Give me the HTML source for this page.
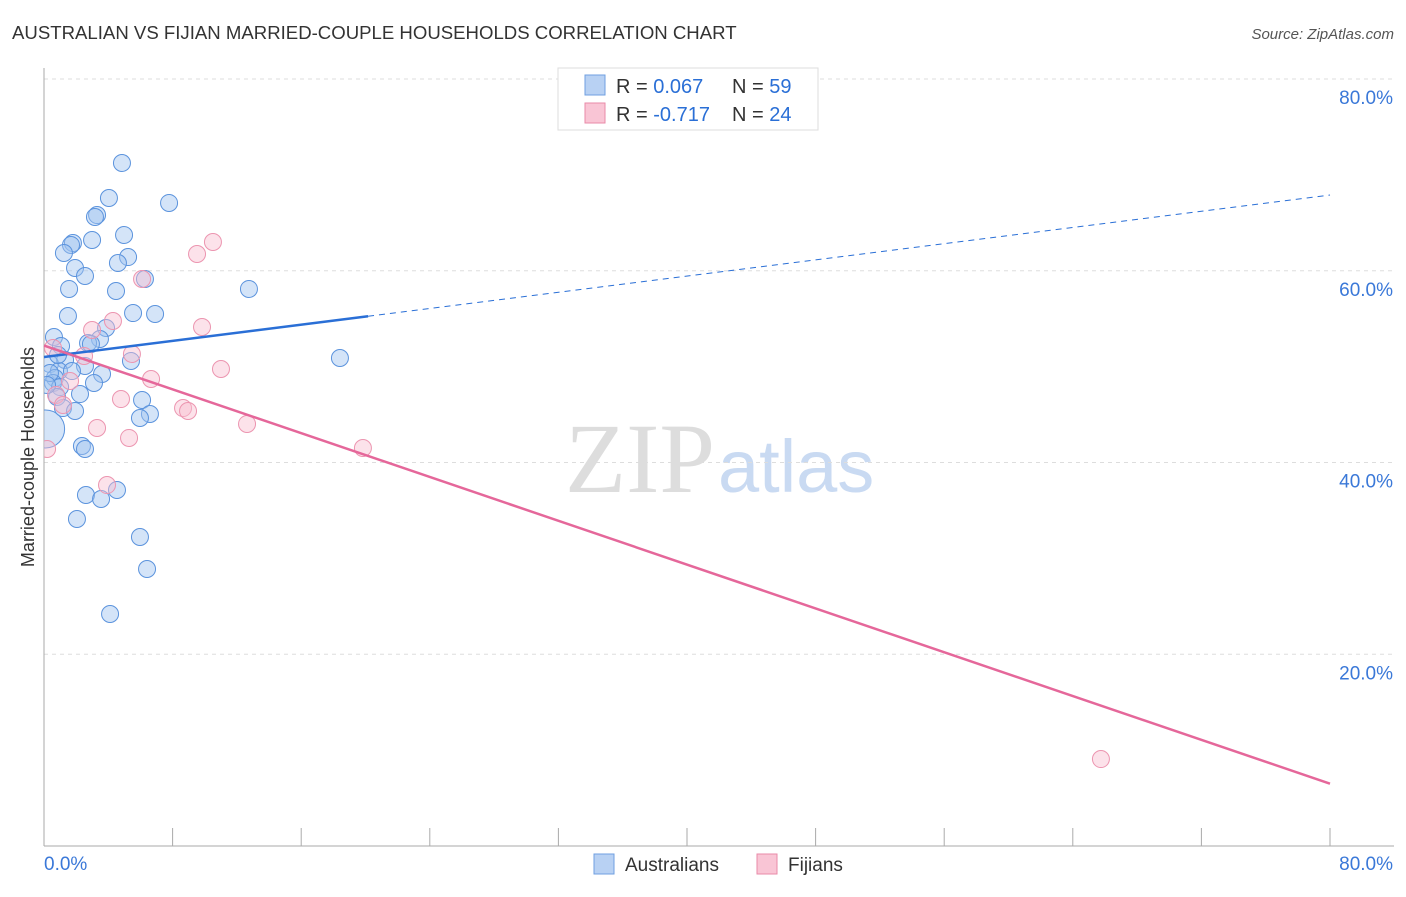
<!DOCTYPE html>
<html><head><meta charset="utf-8"><style>
body{margin:0;background:#fff;font-family:"Liberation Sans",sans-serif;}
</style></head><body>
<svg id="c" width="1406" height="892" xmlns="http://www.w3.org/2000/svg">
<defs><clipPath id="plotclip"><rect x="44" y="60" width="1360" height="786"/></clipPath></defs>
<text x="12" y="39" font-size="18.6" fill="#333">AUSTRALIAN VS FIJIAN MARRIED-COUPLE HOUSEHOLDS CORRELATION CHART</text>
<text x="1394" y="39" font-size="15" fill="#555" font-style="italic" text-anchor="end">Source: ZipAtlas.com</text>
<text x="715" y="492" font-size="100" fill="#ddd" text-anchor="end" font-family="Liberation Serif,serif">ZIP</text>
<text x="718" y="492" font-size="74" fill="#c9daf2">atlas</text>
<text transform="translate(34,457) rotate(-90)" font-size="18" fill="#333" text-anchor="middle">Married-couple Households</text>
<g id="grid"></g><g id="pts" clip-path="url(#plotclip)"></g><g id="lines"></g>
<g>
<rect x="558" y="68" width="260" height="62" fill="#fff" stroke="#ddd"/>
<rect x="585" y="75" width="20" height="20" fill="#b8d1f3" stroke="#6f9fe0"/>
<rect x="585" y="103" width="20" height="20" fill="#f9c5d5" stroke="#e98aa8"/>
<text x="616" y="93" font-size="20" fill="#333">R = <tspan fill="#2a6fd6">0.067</tspan></text>
<text x="732" y="93" font-size="20" fill="#333">N = <tspan fill="#2a6fd6">59</tspan></text>
<text x="616" y="121" font-size="20" fill="#333">R = <tspan fill="#2a6fd6">-0.717</tspan></text>
<text x="732" y="121" font-size="20" fill="#333">N = <tspan fill="#2a6fd6">24</tspan></text>
</g>
<g>
<rect x="594" y="854" width="20" height="20" fill="#b8d1f3" stroke="#6f9fe0"/>
<text x="625" y="871" font-size="19" fill="#333">Australians</text>
<rect x="757" y="854" width="20" height="20" fill="#f9c5d5" stroke="#e98aa8"/>
<text x="788" y="871" font-size="19" fill="#333">Fijians</text>
</g>
</svg>
<script>
const yTicks=[20,40,60,80];
const xTickLabels=["0.0%","80.0%"];
const bluePx=[[122,163],[109,198],[169,203],[97,215],[95,217],[124,235],[92,240],[73,243],[71,245],[64,253],[128,257],[118,263],[75,268],[85,276],[145,279],[69,289],[116,291],[249,289],[68,316],[133,313],[155,314],[106,328],[54,337],[100,339],[88,343],[61,346],[91,344],[65,360],[50,364],[131,361],[85,366],[102,374],[59,371],[72,371],[55,378],[53,383],[60,387],[94,383],[80,394],[57,397],[63,408],[75,411],[142,400],[150,414],[140,418],[340,358],[82,446],[85,449],[86,495],[101,499],[117,490],[77,519],[140,537],[147,569],[110,614],[50,373],[58,355],[47,385]];
const pinkPx=[[142,279],[213,242],[197,254],[92,330],[113,321],[202,327],[132,354],[221,369],[151,379],[70,381],[84,356],[56,395],[63,405],[121,399],[183,408],[188,411],[247,424],[97,428],[129,438],[363,448],[47,449],[107,485],[1101,759],[53,348]];
const blueX=bluePx.map(p=>+((p[0]-44)/1286*80).toFixed(2)), blueY=bluePx.map(p=>+((846-p[1])/9.5875).toFixed(2));
const pinkX=pinkPx.map(p=>+((p[0]-44)/1286*80).toFixed(2)), pinkY=pinkPx.map(p=>+((846-p[1])/9.5875).toFixed(2));
const bigX=[0.1], bigY=[43.5];
const blueTrend=[51.0,67.9], pinkTrend=[52.2,6.5];
const blueSolidEnd=20.16;
const sx=v=>44+v/80*1286, sy=v=>846-v*9.5875;
const NS="http://www.w3.org/2000/svg";
function mk(t,a,p){const e=document.createElementNS(NS,t);for(const k in a)e.setAttribute(k,a[k]);document.getElementById(p).appendChild(e);return e;}
yTicks.forEach(v=>{
 const l=mk('line',{x1:44,x2:1394,y1:sy(v),y2:sy(v),stroke:'#ddd','stroke-dasharray':'4,4'},'grid');
 
 
 const t=mk('text',{x:1393,y:sy(v)+25,'font-size':19,fill:'#3a78d8','text-anchor':'end'},'grid');t.textContent=v.toFixed(1)+'%';
 
 
});
mk('line',{x1:44,x2:44,y1:68,y2:846,stroke:'#aaa'},'grid');
mk('line',{x1:44,x2:1394,y1:846,y2:846,stroke:'#aaa'},'grid');
for(let i=0;i<=10;i++){const x=sx(i*8);mk('line',{x1:x,x2:x,y1:828,y2:846,stroke:'#aaa'},'grid');}
const t0=mk('text',{x:44,y:870,'font-size':19,fill:'#3a78d8'},'grid');t0.textContent=xTickLabels[0];


const t1=mk('text',{x:1393,y:870,'font-size':19,fill:'#3a78d8','text-anchor':'end'},'grid');t1.textContent=xTickLabels[1];


bigX.forEach((x,i)=>{const c=mk('circle',{cx:sx(x),cy:sy(bigY[i]),r:19,fill:'rgba(160,196,240,0.45)',stroke:'#5b93dd','stroke-width':1},'pts');
 
 });
blueX.forEach((x,i)=>{const c=mk('circle',{cx:sx(x),cy:sy(blueY[i]),r:8.5,fill:'rgba(160,196,240,0.45)',stroke:'#5b93dd','stroke-width':1},'pts');
 
 });
pinkX.forEach((x,i)=>{const c=mk('circle',{cx:sx(x),cy:sy(pinkY[i]),r:8.5,fill:'rgba(248,190,208,0.45)',stroke:'#ec95b0','stroke-width':1},'pts');
 
 });
const bAt=v=>blueTrend[0]+(blueTrend[1]-blueTrend[0])*v/80;
let l=mk('line',{x1:sx(0),y1:sy(bAt(0)),x2:sx(blueSolidEnd),y2:sy(bAt(blueSolidEnd)),stroke:'#2a6fd6','stroke-width':2.5},'lines');


l=mk('line',{x1:sx(blueSolidEnd),y1:sy(bAt(blueSolidEnd)),x2:sx(80),y2:sy(bAt(80)),stroke:'#2a6fd6','stroke-width':1,'stroke-dasharray':'6,5'},'lines');


l=mk('line',{x1:sx(0),y1:sy(pinkTrend[0]),x2:sx(80),y2:sy(pinkTrend[1]),stroke:'#e5679a','stroke-width':2.5},'lines');


</script>
</body></html>
